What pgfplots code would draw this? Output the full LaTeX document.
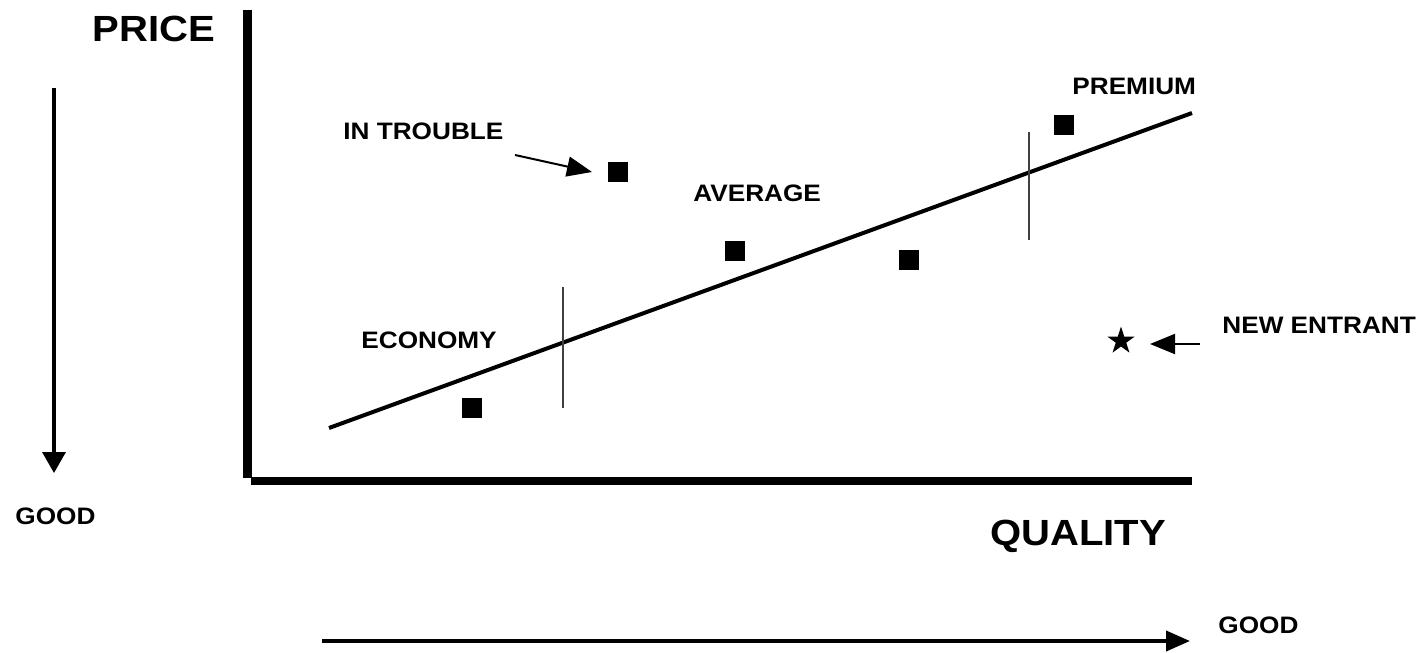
\documentclass[border=0pt]{standalone}
\usepackage{pgfplots}
\pgfplotsset{compat=1.18}
\usepackage{fontspec}
\setmainfont{Liberation Sans}[FakeStretch=1.1]
\usetikzlibrary{arrows.meta}

% filled five-pointed star used for the new entrant
\pgfdeclareplotmark{filledstar}{%
  \pgfpathmoveto{\pgfpointpolar{90}{\pgfplotmarksize}}%
  \pgfpathlineto{\pgfpointpolar{126}{0.382\pgfplotmarksize}}%
  \pgfpathlineto{\pgfpointpolar{162}{\pgfplotmarksize}}%
  \pgfpathlineto{\pgfpointpolar{198}{0.382\pgfplotmarksize}}%
  \pgfpathlineto{\pgfpointpolar{234}{\pgfplotmarksize}}%
  \pgfpathlineto{\pgfpointpolar{270}{0.382\pgfplotmarksize}}%
  \pgfpathlineto{\pgfpointpolar{306}{\pgfplotmarksize}}%
  \pgfpathlineto{\pgfpointpolar{342}{0.382\pgfplotmarksize}}%
  \pgfpathlineto{\pgfpointpolar{18}{\pgfplotmarksize}}%
  \pgfpathlineto{\pgfpointpolar{54}{0.382\pgfplotmarksize}}%
  \pgfpathclose\pgfusepathqfill}

\newcommand\biglab{\fontsize{18.2}{20}\selectfont\bfseries}
\newcommand\smalllab{\fontsize{11.9}{14}\selectfont\bfseries}

\begin{document}
\begin{tikzpicture}
\begin{axis}[
  name=ax, scale only axis, width=712pt, height=326.5pt,
  xmin=0, xmax=1424, ymin=0, ymax=653, y dir=reverse,
  hide axis, clip=false]
  \path (axis cs:0,0) rectangle (axis cs:1424,653);

  % axes of the positioning map
  \addplot[line width=4.3pt, line cap=butt] coordinates {(247.5,10) (247.5,478)};
  \addplot[line width=4.3pt, line cap=butt] coordinates {(251,481) (1192,481)};

  % direction arrows
  \addplot[line width=1.7pt, -{Triangle[length=10.5pt,width=11.5pt]}] coordinates {(54,88) (54,473)};
  \addplot[line width=2pt, -{Triangle[length=12pt,width=10pt]}] coordinates {(322,641) (1190,641)};

  % price-quality line and segment boundaries
  \addplot[line width=2pt] coordinates {(329,428) (1192,113)};
  \addplot[line width=0.7pt, black!75] coordinates {(563,287) (563,408)};
  \addplot[line width=0.7pt, black!75] coordinates {(1029,132) (1029,240)};

  % brands
  \addplot[only marks, mark=square*, mark size=4.7pt,
    mark options={draw=black, fill=black, line width=0.2pt}]
    coordinates {(472,408) (618,172) (735,251) (909,260) (1064,124.5)};
  \addplot[only marks, mark=filledstar, mark size=7.2pt, fill=black]
    coordinates {(1121,341)};

  % pointers
  \addplot[line width=1pt, -{Triangle[length=12.5pt,width=10pt]}] coordinates {(515,155) (592,172)};
  \addplot[line width=1pt, -{Triangle[length=12.5pt,width=10pt]}] coordinates {(1200,344) (1150,344)};

  % labels
  \node[anchor=base west, inner sep=0, font=\biglab] at (axis cs:92,41) {PRICE};
  \node[anchor=base west, inner sep=0, font=\biglab] at (axis cs:990,545) {QUALITY};
  \node[anchor=base west, inner sep=0, font=\smalllab] at (axis cs:15,524) {GOOD};
  \node[anchor=base west, inner sep=0, font=\smalllab] at (axis cs:1218,633) {GOOD};
  \node[anchor=base west, inner sep=0, font=\smalllab] at (axis cs:343,139) {IN TROUBLE};
  \node[anchor=base west, inner sep=0, font=\smalllab] at (axis cs:693,201) {AVERAGE};
  \node[anchor=base west, inner sep=0, font=\smalllab] at (axis cs:1072,94) {PREMIUM};
  \node[anchor=base west, inner sep=0, font=\smalllab] at (axis cs:361,348) {ECONOMY};
  \node[anchor=base west, inner sep=0, font=\smalllab] at (axis cs:1222,333) {NEW ENTRANT};
\end{axis}
\end{tikzpicture}
\end{document}
